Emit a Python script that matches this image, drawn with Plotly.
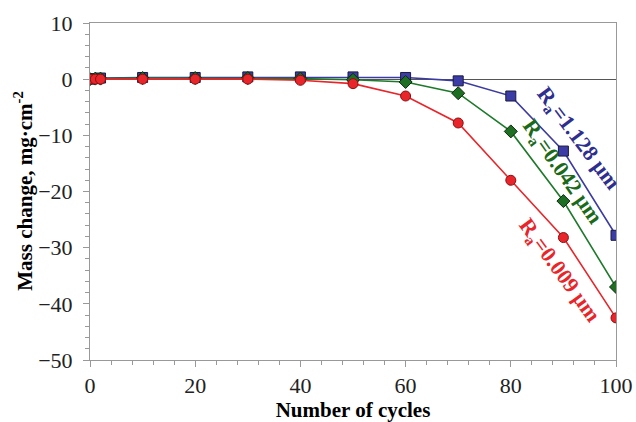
import plotly.graph_objects as go

cycles = [0, 1, 2, 10, 20, 30, 40, 50, 60, 70, 80, 90, 100]
ra_1128 = [0, 0.1, 0.2, 0.3, 0.3, 0.4, 0.4, 0.4, 0.3, -0.3, -3.0, -12.8, -27.8]
ra_0042 = [0, 0.1, 0.1, 0.2, 0.2, 0.2, 0.1, -0.1, -0.5, -2.5, -9.3, -21.7, -37.0]
ra_0009 = [0, 0, 0, 0, 0, 0, -0.2, -0.8, -3.0, -7.8, -18.0, -28.2, -42.5]

font_family = "Liberation Serif, Times New Roman, serif"

fig = go.Figure()
fig.add_trace(go.Scatter(x=cycles, y=ra_1128, mode="lines+markers",
                         line=dict(color="#3b3ba0", width=1.6),
                         marker=dict(symbol="square", size=10, color="#3c3ca6",
                                     line=dict(color="#1a1a40", width=1))))
fig.add_trace(go.Scatter(x=cycles, y=ra_0042, mode="lines+markers",
                         line=dict(color="#1e7a2a", width=1.6),
                         marker=dict(symbol="diamond", size=10, color="#1e6e24",
                                     line=dict(color="#0a2a0a", width=1))))
fig.add_trace(go.Scatter(x=cycles, y=ra_0009, mode="lines+markers",
                         line=dict(color="#e8252a", width=1.6),
                         marker=dict(symbol="circle", size=10, color="#e8252a",
                                     line=dict(color="#8a1010", width=1))))

labels = [
    ("<b>R<sub>a</sub>=1.128 μm</b>", 92.8, -10.6, "#2e2e8e", 53),
    ("<b>R<sub>a</sub>=0.042 μm</b>", 89.7, -16.5, "#1a6a1a", 55),
    ("<b>R<sub>a</sub>=0.009 μm</b>", 89.2, -34.1, "#e8252a", 54),
]
for text, x, y, c, ang in labels:
    fig.add_annotation(x=x, y=y, text=text, showarrow=False, textangle=ang,
                       font=dict(family=font_family, size=22, color=c))

# y-axis title placed as a paper annotation
fig.add_annotation(xref="paper", yref="paper", x=-0.127, y=0.5,
                   xanchor="center", yanchor="middle", showarrow=False,
                   textangle=-90, text="<b>Mass change, mg·cm<sup>-2</sup></b>",
                   font=dict(family=font_family, size=21, color="black"))

axis_common = dict(showgrid=False, showline=True, linecolor="#999999", linewidth=1,
                   mirror=True, ticks="outside", ticklen=6, tickcolor="#999999",
                   automargin=False,
                   tickfont=dict(family=font_family, size=22, color="#222222"))

fig.update_layout(
    width=636, height=422,
    margin=dict(l=90, r=20, t=23, b=62),
    paper_bgcolor="white", plot_bgcolor="white",
    showlegend=False,
    font=dict(family=font_family, size=21, color="black"),
    xaxis=dict(range=[0, 100], tickvals=[0, 20, 40, 60, 80, 100], zeroline=False,
               minor=dict(dtick=4, ticks="outside", ticklen=4, tickcolor="#999999"),
               title=dict(text="<b>Number of cycles</b>",
                          font=dict(family=font_family, size=21)),
               **axis_common),
    yaxis=dict(range=[-50, 10], dtick=10, ticklabelstandoff=6,
               zeroline=True, zerolinecolor="#555555", zerolinewidth=1,
               minor=dict(dtick=2, ticks="outside", ticklen=4, tickcolor="#999999"),
               **axis_common),
)

fig.write_html("out.html")
